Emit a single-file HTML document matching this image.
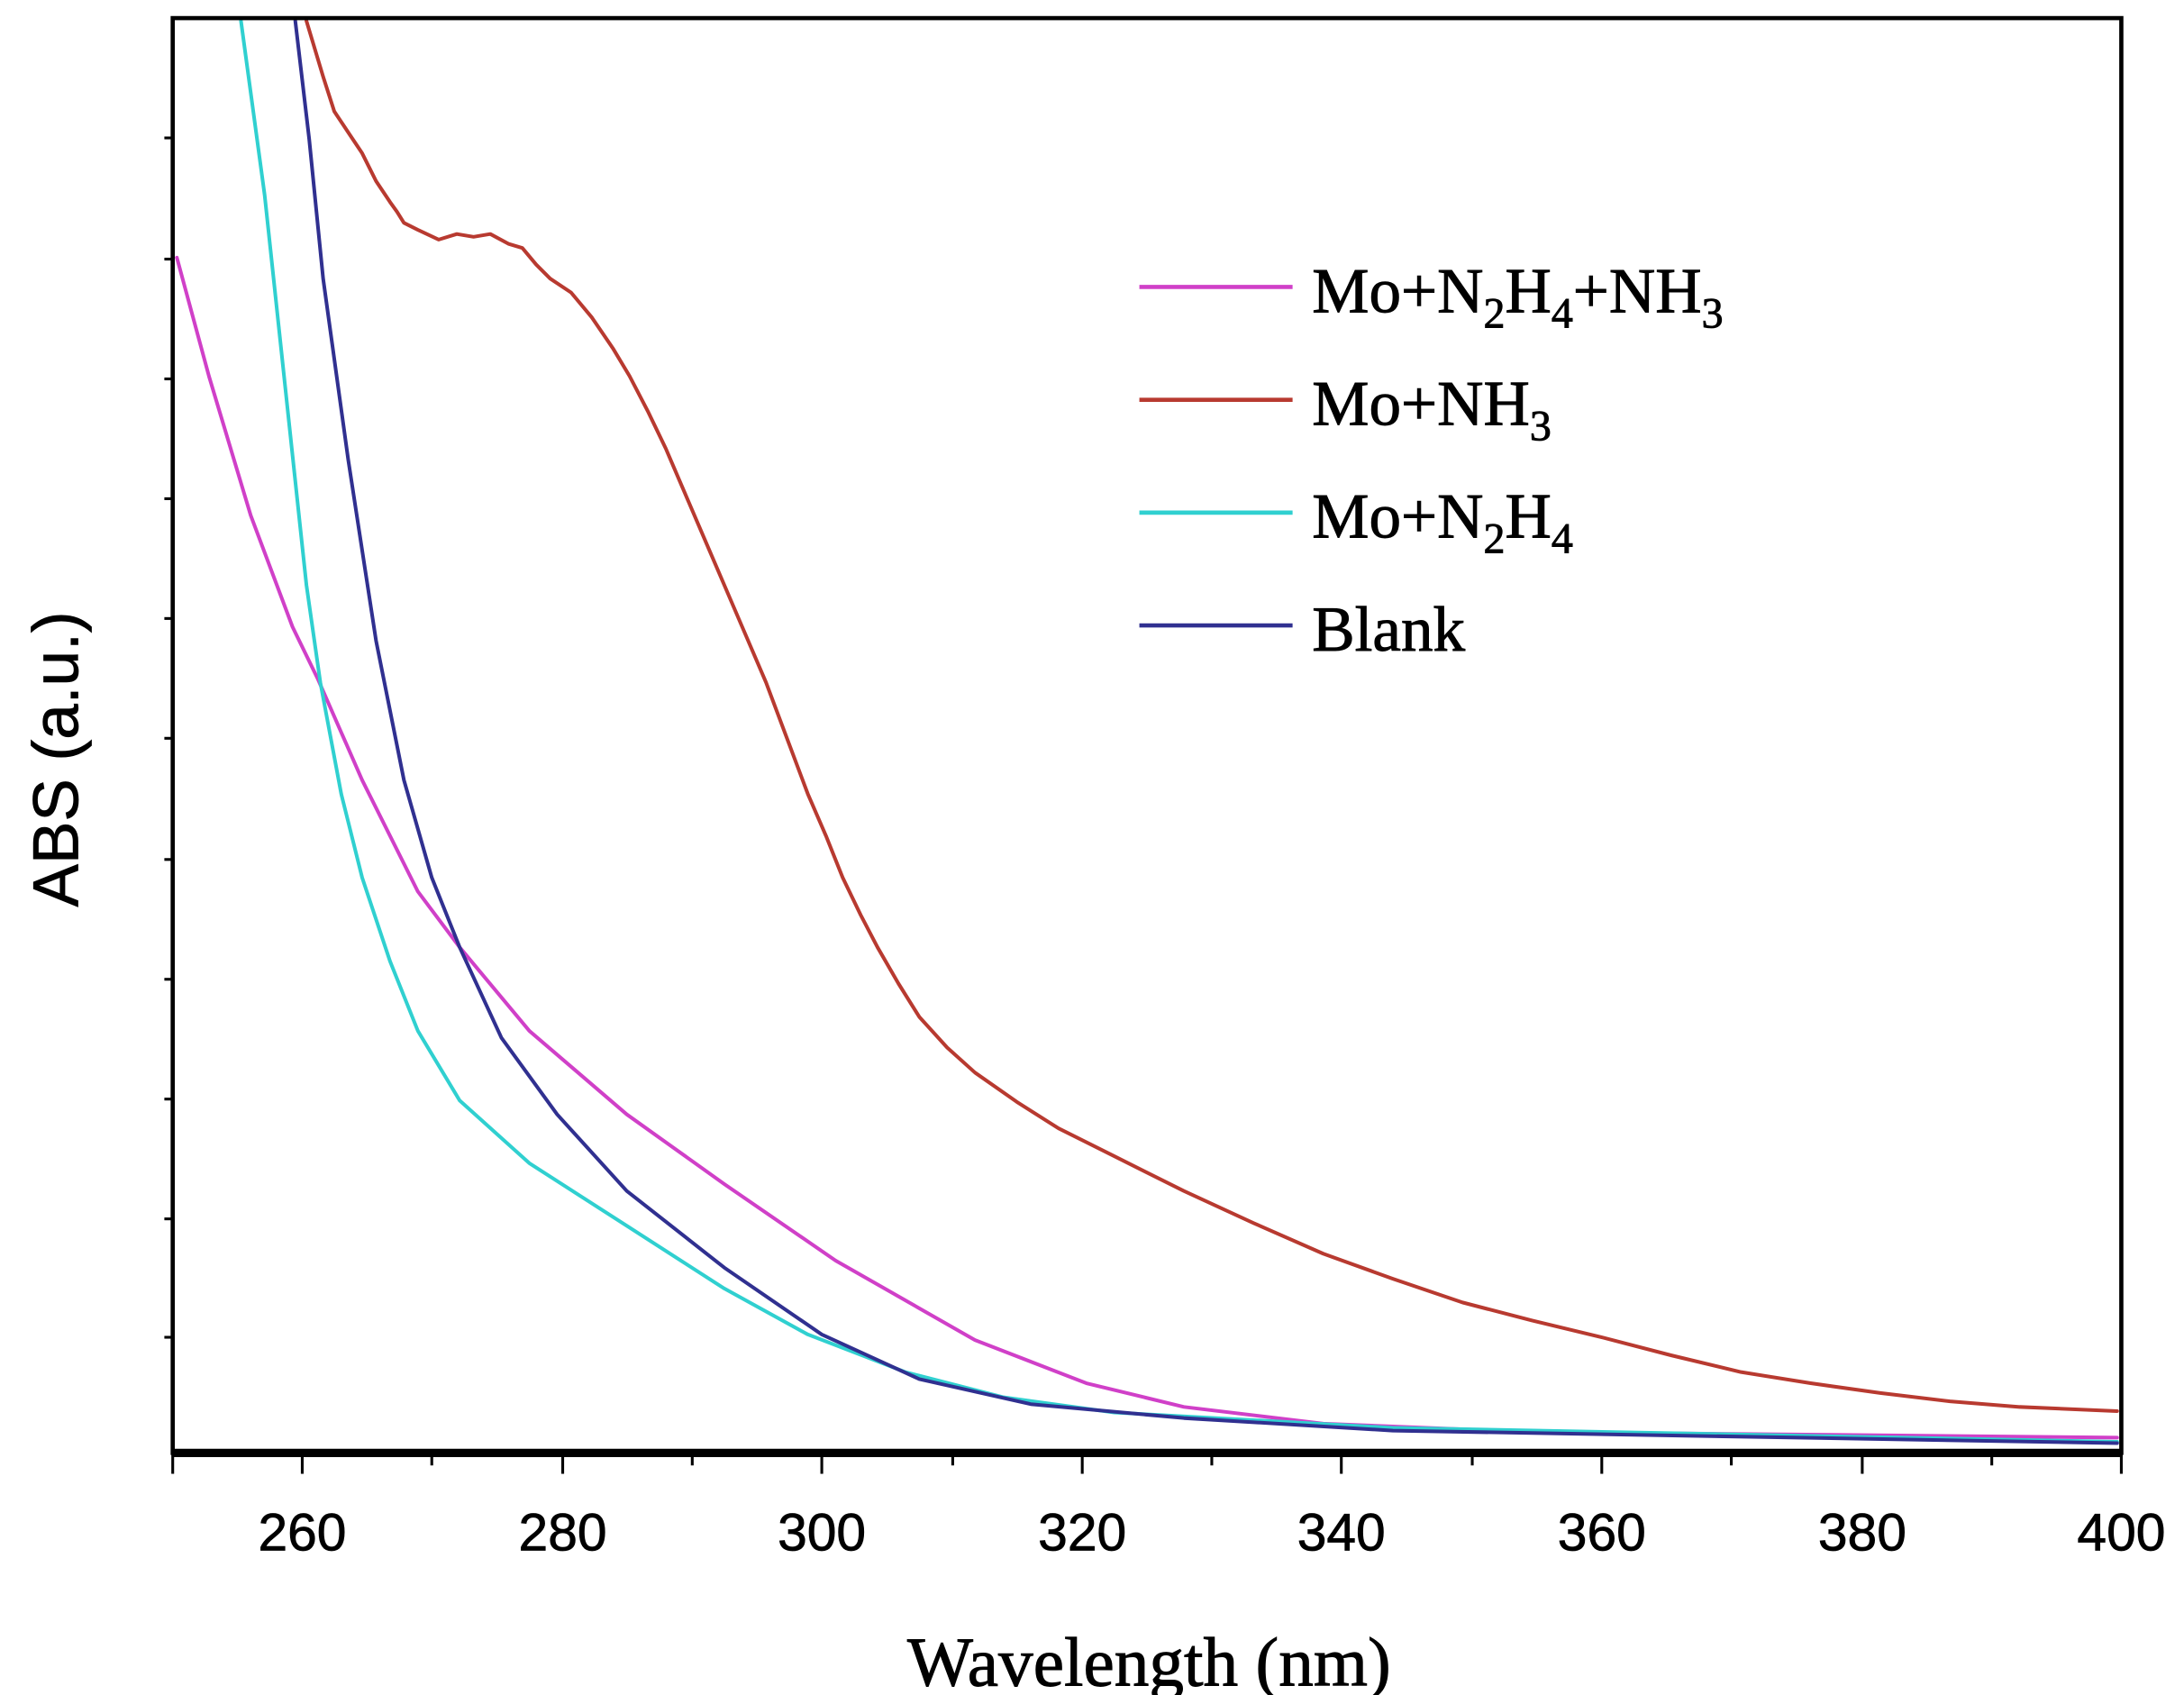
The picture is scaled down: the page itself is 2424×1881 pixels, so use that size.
<!DOCTYPE html>
<html><head><style>html,body{margin:0;padding:0;background:#fff;}svg{display:block}</style></head>
<body>
<svg width="2424" height="1881" viewBox="0 0 1568 1216.8" preserveAspectRatio="none" xmlns="http://www.w3.org/2000/svg">
<rect width="1568" height="1217" fill="#fff"/>
<g fill="none" stroke-width="2.6" stroke-linejoin="round" stroke-linecap="round">
<polyline stroke="#d040c8" points="127,185 150,270 180,370 210,450 228,487 260,560 300,640 330,680 380,740 450,800 520,850 600,905 700,962 780,993 850,1010 950,1022 1100,1028 1520,1032"/>
<polyline stroke="#30d0d0" points="173,15 190,140 205,280 220,420 230,490 245,570 260,630 280,690 300,740 330,790 380,835 450,880 520,925 580,958 650,985 720,1003 800,1014 1000,1025 1520,1035"/>
<polyline stroke="#303090" points="212,15 222,100 232,200 250,330 270,460 290,560 310,630 330,680 360,745 400,800 450,855 520,910 590,958 660,990 740,1008 850,1018 1000,1027 1520,1036"/>
<polyline stroke="#b83a30" points="220,15 232,55 240,80 250,95 260,110 270,130 280,145 285,152 290,160 300,165 315,172 328,168 340,170 352,168 365,175 375,178 385,190 395,200 410,210 425,228 440,250 452,270 465,295 478,322 490,350 505,385 520,420 535,455 550,490 565,530 580,570 593,600 605,630 618,657 630,680 645,706 660,730 680,752 700,770 730,791 760,810 800,830 850,855 900,878 950,900 1000,918 1050,935 1100,948 1150,960 1200,973 1250,985 1300,993 1350,1000 1400,1006 1450,1010 1520,1013"/>
</g>
<g stroke="#000" fill="none">
<rect x="124" y="13" width="1399" height="1030" stroke-width="3"/>
<line x1="124" y1="1043" x2="1523" y2="1043" stroke-width="6"/>
<g stroke-width="2">
<line x1="124" y1="1043" x2="124" y2="1058"/><line x1="217" y1="1043" x2="217" y2="1058"/><line x1="310" y1="1043" x2="310" y2="1052"/><line x1="404" y1="1043" x2="404" y2="1058"/><line x1="497" y1="1043" x2="497" y2="1052"/><line x1="590" y1="1043" x2="590" y2="1058"/><line x1="684" y1="1043" x2="684" y2="1052"/><line x1="777" y1="1043" x2="777" y2="1058"/><line x1="870" y1="1043" x2="870" y2="1052"/><line x1="963" y1="1043" x2="963" y2="1058"/><line x1="1057" y1="1043" x2="1057" y2="1052"/><line x1="1150" y1="1043" x2="1150" y2="1058"/><line x1="1243" y1="1043" x2="1243" y2="1052"/><line x1="1337" y1="1043" x2="1337" y2="1058"/><line x1="1430" y1="1043" x2="1430" y2="1052"/><line x1="1523" y1="1043" x2="1523" y2="1058"/>
<line x1="118" y1="99" x2="124" y2="99"/><line x1="118" y1="186" x2="124" y2="186"/><line x1="118" y1="272" x2="124" y2="272"/><line x1="118" y1="358" x2="124" y2="358"/><line x1="118" y1="444" x2="124" y2="444"/><line x1="118" y1="530" x2="124" y2="530"/><line x1="118" y1="617" x2="124" y2="617"/><line x1="118" y1="703" x2="124" y2="703"/><line x1="118" y1="789" x2="124" y2="789"/><line x1="118" y1="875" x2="124" y2="875"/><line x1="118" y1="960" x2="124" y2="960"/>
</g>
<g stroke-width="3">
<line x1="818" y1="206" x2="928" y2="206" stroke="#d040c8"/>
<line x1="818" y1="287" x2="928" y2="287" stroke="#b83a30"/>
<line x1="818" y1="368" x2="928" y2="368" stroke="#30d0d0"/>
<line x1="818" y1="449" x2="928" y2="449" stroke="#303090"/>
</g>
</g>
<g font-family="Liberation Serif, serif" font-size="46" fill="#000" stroke="#000" stroke-width="0.6">
<text x="942" y="224">Mo+N<tspan font-size="31" dy="11">2</tspan><tspan dy="-11">H</tspan><tspan font-size="31" dy="11">4</tspan><tspan dy="-11">+NH</tspan><tspan font-size="31" dy="11">3</tspan></text>
<text x="942" y="305">Mo+NH<tspan font-size="31" dy="11">3</tspan></text>
<text x="942" y="386">Mo+N<tspan font-size="31" dy="11">2</tspan><tspan dy="-11">H</tspan><tspan font-size="31" dy="11">4</tspan></text>
<text x="942" y="467">Blank</text>
<text x="825" y="1210" text-anchor="middle" font-size="50">Wavelength (nm)</text>
</g>
<g font-family="Liberation Sans, sans-serif" font-size="38" fill="#000" text-anchor="middle" stroke="#000" stroke-width="0.5">
<text x="217" y="1113">260</text><text x="404" y="1113">280</text><text x="590" y="1113">300</text><text x="777" y="1113">320</text><text x="963" y="1113">340</text><text x="1150" y="1113">360</text><text x="1337" y="1113">380</text><text x="1523" y="1113">400</text>
<text transform="translate(56,545) rotate(-90)" font-size="46">ABS (a.u.)</text>
</g>
</svg>
</body></html>
